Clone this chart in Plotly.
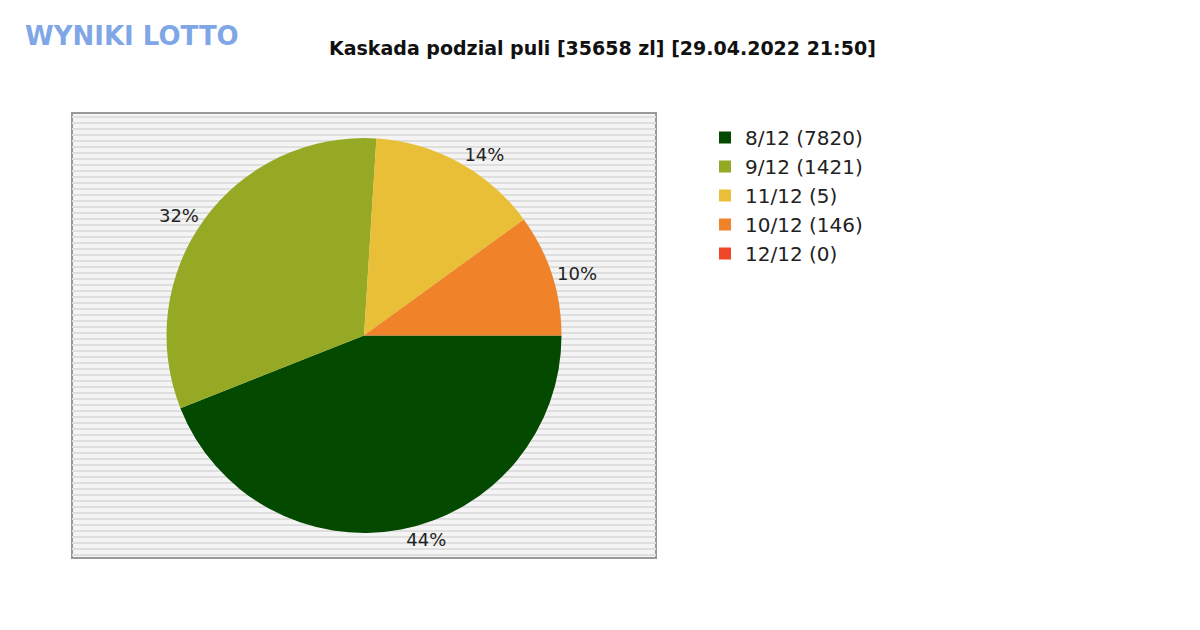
import plotly.graph_objects as go

labels = ["8/12 (7820)", "9/12 (1421)", "11/12 (5)", "10/12 (146)", "12/12 (0)"]
values = [44, 32, 14, 10, 0]
colors = ["#034a00", "#95a925", "#e8bf36", "#f0822a", "#f0462a"]
title = "Kaskada podzial puli [35658 zl] [29.04.2022 21:50]"

W, H = 1200, 630
off = 8
x0, x1, y0, y1 = 72 - off, 656 - off, 113 - off, 558 - off

texts = ["%d%%" % v if v > 0 else "" for v in values]

fig = go.Figure(go.Pie(
    labels=labels, values=values, marker=dict(colors=colors),
    sort=False, direction="clockwise", rotation=90,
    text=texts, textinfo="text", textposition="outside",
    textfont=dict(size=18, color="#222", family="DejaVu Sans"),
    domain=dict(x=[(x0+40)/W, (x1-40)/W], y=[1-(y1-25)/H, 1-(y0+25)/H]),
    showlegend=True, hoverinfo="label+percent",
))

shapes = [dict(type="rect", xref="paper", yref="paper", x0=x0/W, x1=x1/W, y0=1-y1/H, y1=1-y0/H,
               fillcolor="#f4f4f4", line=dict(color="#999", width=2), layer="below")]
for y in range(y0+4, y1, 6):
    shapes.append(dict(type="line", xref="paper", yref="paper", x0=x0/W, x1=x1/W,
                       y0=1-y/H, y1=1-y/H, line=dict(color="#dedede", width=2), layer="below"))

fig.update_layout(
    width=W, height=H, paper_bgcolor="white", margin=dict(l=0, r=0, t=0, b=0),
    shapes=shapes,
    legend=dict(x=(705-off)/W, y=1-(118-off)/H, xanchor="left", yanchor="top",
                font=dict(size=20, color="#222", family="DejaVu Sans"),
                itemsizing="constant"),
    annotations=[
        dict(text="<b>"+title+"</b>", x=(602-off)/W, y=1-(48-off)/H, xref="paper", yref="paper",
             xanchor="center", yanchor="middle",
             showarrow=False, font=dict(size=19, color="#111", family="DejaVu Sans")),
        dict(text="<b>WYNIKI LOTTO</b>", x=(132-off)/W, y=1-(36-off)/H, xref="paper", yref="paper",
             xanchor="center", yanchor="middle",
             showarrow=False, font=dict(size=26, color="#7fa6e6", family="DejaVu Sans")),
    ],
)
fig.write_html("out.html")
